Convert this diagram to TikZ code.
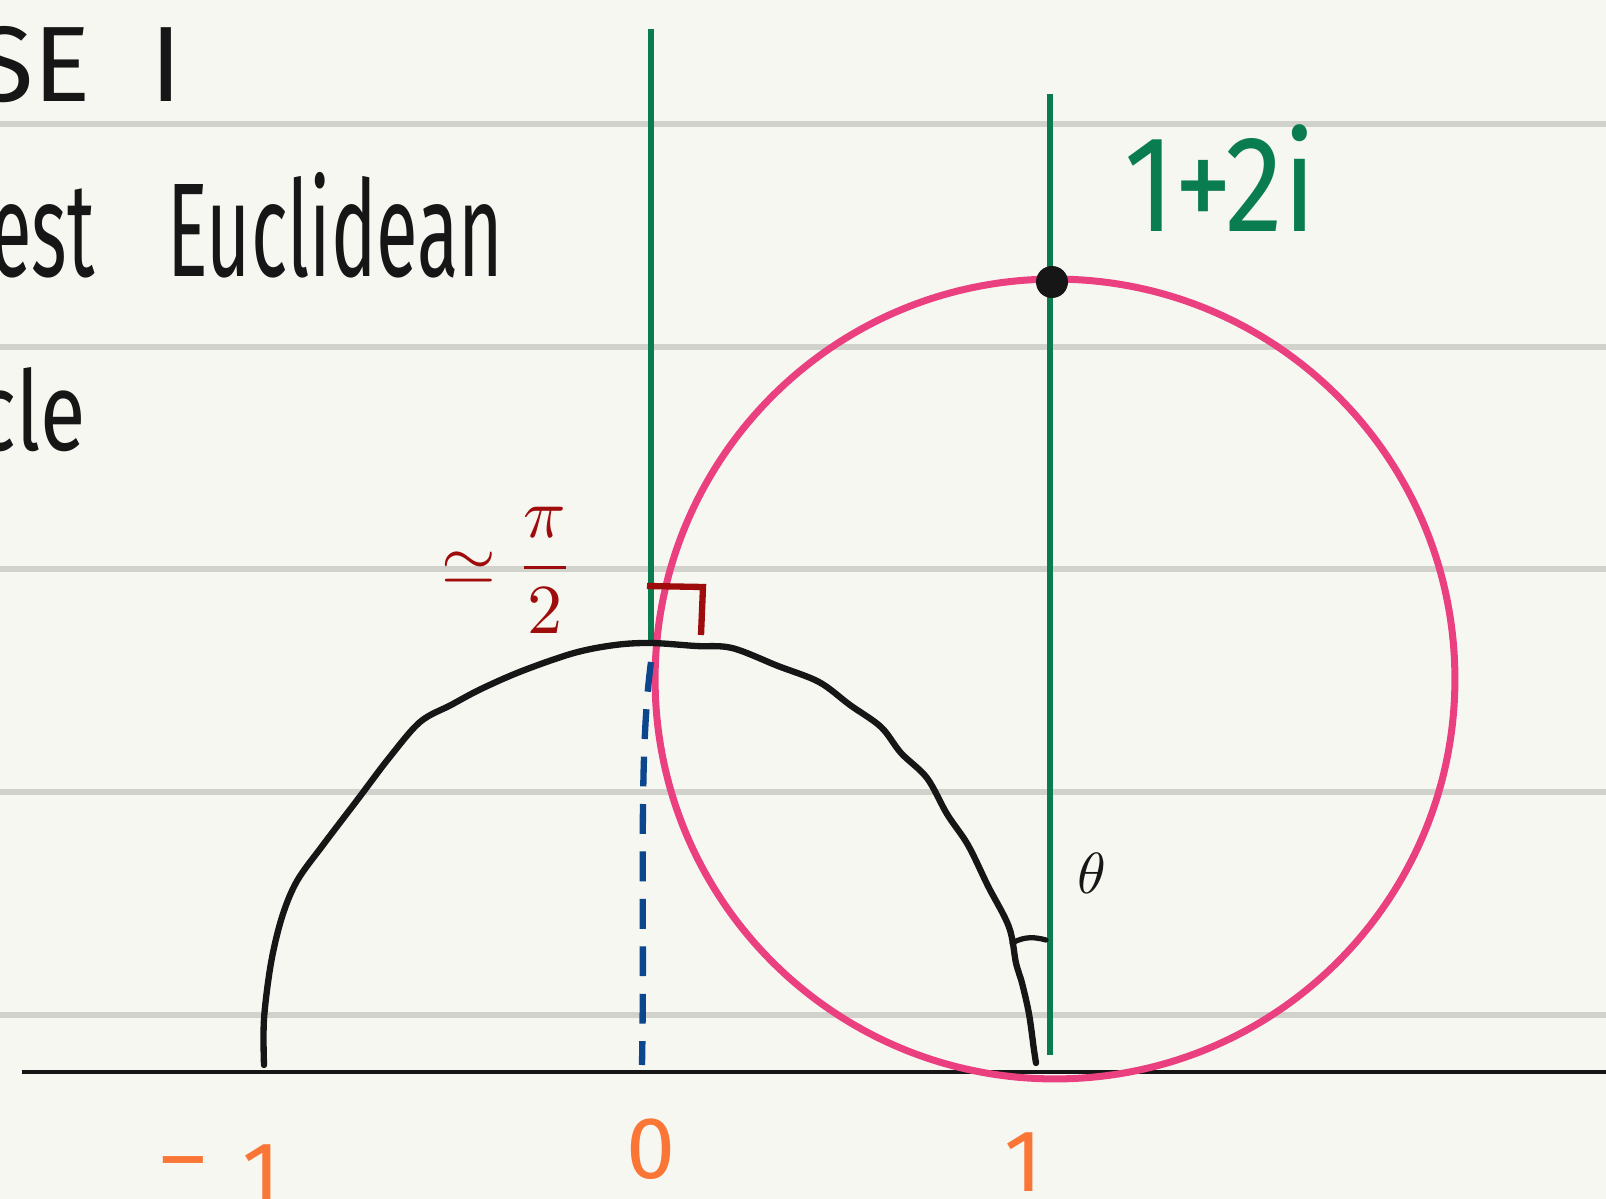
\documentclass[tikz,border=0pt]{standalone}
\usepackage{amsmath}
\usepackage{fontspec}
\setmainfont{Fira Sans}
\usepackage{graphicx}
\usetikzlibrary{positioning,calc}
\definecolor{paper}{RGB}{247,247,242}
\definecolor{ruled}{RGB}{210,210,205}
\definecolor{penGreen}{RGB}{10,125,80}
\definecolor{penPink}{RGB}{234,64,128}
\definecolor{penRed}{RGB}{158,12,12}
\definecolor{penBlue}{RGB}{12,70,140}
\definecolor{penOrange}{RGB}{250,118,55}
\definecolor{penBlack}{RGB}{22,22,22}
\tikzset{
  ruleline/.style={draw=ruled, line width=3pt},
  axisline/.style={draw=penBlack, line width=2.8pt},
  vline/.style={draw=penGreen, line width=3.4pt},
  pinkcirc/.style={draw=penPink, line width=4pt},
  geod/.style={draw=penBlack, line width=3.6pt, line cap=round, line join=round},
  dashgeod/.style={draw=penBlue, line width=3.6pt, dash pattern=on 17pt off 10pt},
  anglemark/.style={draw=penRed, line width=3.6pt},
  hand/.style={inner sep=0pt, text=penBlack},
  ticklbl/.style={inner sep=0pt, text=penOrange, font=\fontsize{50}{54}\selectfont},
}
\newcommand{\xZero}{651}
\newcommand{\xOne}{1050}
\newcommand{\yAxis}{1072}

\begin{document}
\begin{tikzpicture}[x=0.02cm, y=-0.02cm]
    
      \fill[paper] (0,0) rectangle (1606,1199);
      \useasboundingbox (0,0) rectangle (1606,1199);
      \clip (0,0) rectangle (1606,1199);
    
      \foreach \y in {124,347,569,792,1015}
        \draw[ruleline] (0,\y) -- (1606,\y);
    
      \node[hand, anchor=base west, font=\fontsize{61}{64}\selectfont] (caseno) at (-25,102) {SE\hspace{0.55em}I};
      \node[hand, anchor=base west, font=\fontsize{76}{80}\selectfont] (eucl) at (-10,277) {\scalebox{0.57}[1]{est\hspace{0.95em}Euclidean}};
      \node[hand, anchor=base east, font=\fontsize{63}{66}\selectfont] (circw) at (86,451) {\scalebox{0.75}[1]{cle}};
    
      \coordinate (axL) at (22,\yAxis);
      \coordinate (axR) at (1606,\yAxis);
      \draw[axisline] (axL) -- (axR);
    
      \coordinate (cc) at (1055,679);
      \draw[pinkcirc] (cc) circle[radius=8cm];
    
      \coordinate (gztop) at (\xZero,29);
      \coordinate (gzbot) at (\xZero,645);
      \coordinate (gotop) at (\xOne,94);
      \coordinate (gobot) at (\xOne,1055);
      \draw[vline] (gztop) -- (gzbot);
      \draw[vline] (gotop) -- (gobot);
    
      \draw[geod] plot[smooth, tension=0.55] coordinates {
        (264,1065) (264,1019) (271,963) (282,917) (297,881) (323,845)
        (358,799) (389,758) (420,722) (451,705) (481,689) (522,671)
        (574,653) (615,645) (651,643) (696,646) (732,648) (778,666)
        (819,682) (850,705) (881,727) (901,753) (927,778) (947,814)
        (968,845) (988,886) (1009,927) (1016,963) (1022,983) (1029,1014)
        (1034,1050) (1036,1063)};
    
      \coordinate (bltop) at (651,662);
      \coordinate (blbot) at (642,1065);
      \draw[dashgeod] (bltop) .. controls (638,760) and (645,900) .. (blbot);
    
      \coordinate (ra1) at (647,586);
      \coordinate (ra2) at (703,587);
      \coordinate (ra3) at (701,635);
      \draw[anglemark] (ra1) -- (ra2) -- (ra3);
      \node[hand, text=penRed] (halfpi) at (508,570) {\scalebox{4}{$\simeq\dfrac{\pi}{2}$}};
    
      \coordinate (th1) at (1012,943);
      \coordinate (th2) at (1046,940);
      \draw[geod, line width=3pt] (th1) .. controls (1025,936) and (1035,937) .. (th2);
      \node[hand] (thlbl) at (1092,873) {\scalebox{3.3}{$\theta$}};
    
      \coordinate (pt) at (1052,282);
      \fill[penBlack] (pt) circle[radius=0.32cm];
      \node[hand, text=penGreen, anchor=base, font=\fontsize{78}{80}\selectfont] (zlbl) at (1220,232) {\scalebox{0.85}[1]{1+2i}};
    
      \node[ticklbl, anchor=base west] (tm) at (160,1203) {\raisebox{0.18em}{\textendash}\hspace{0.42em}1};
      \node[ticklbl] (tz) at (\xZero,1149) {0};
      \node[ticklbl, anchor=base] (to) at (1024,1191) {1};
    
    \end{tikzpicture}
\end{document}
